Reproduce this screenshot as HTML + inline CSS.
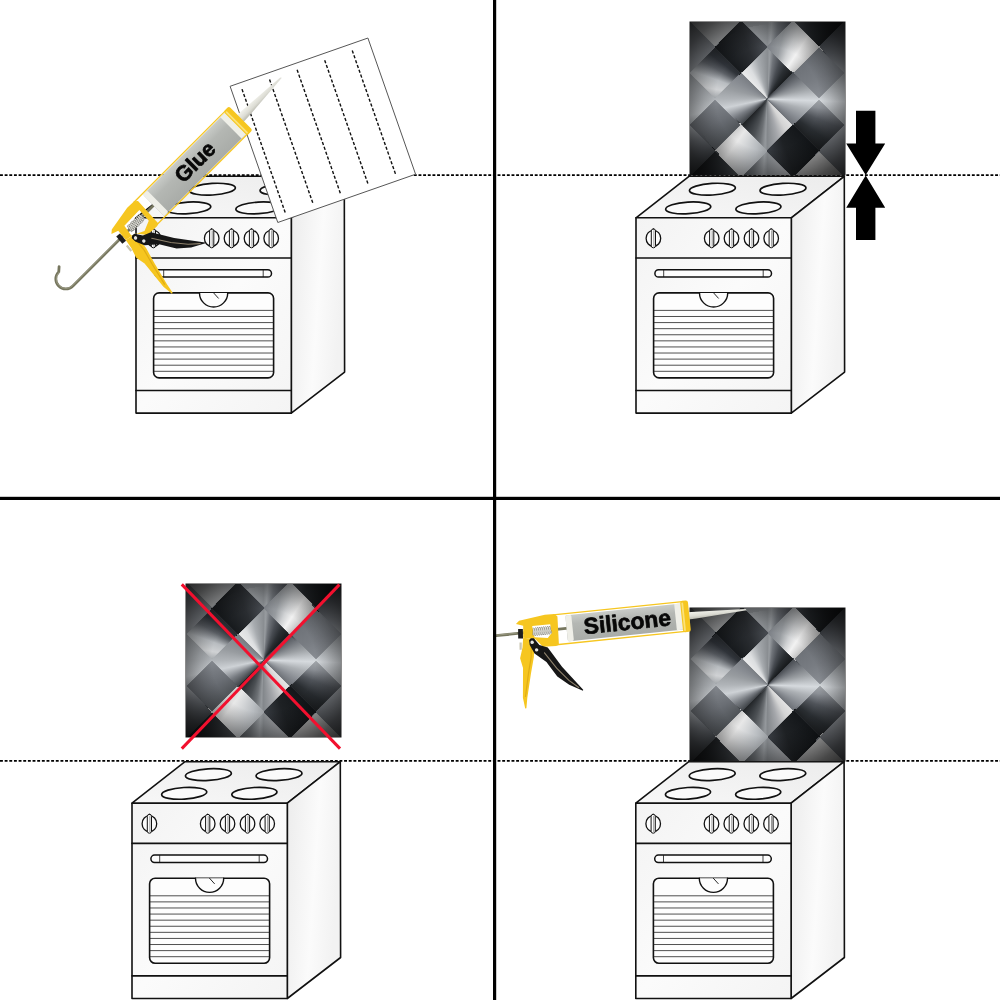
<!DOCTYPE html>
<html><head><meta charset="utf-8"><title>Installation guide</title>
<style>
html,body{margin:0;padding:0;background:#fff;}
body{width:1000px;height:1000px;position:relative;overflow:hidden;font-family:"Liberation Sans",sans-serif;}
svg{position:absolute;left:0;top:0;}
.tile{position:absolute;overflow:hidden;background:#222;box-shadow:0 0 0 0.5px #1a1a1a;}
.tile .la{position:absolute;left:0;top:0;right:0;bottom:0;background:conic-gradient(from -49.0deg,#eeeeee 0deg,#dcdee0 19deg,#a8acb0 34deg,#8a8e92 49deg,#989ca0 52deg,#70747a 57deg,#484c52 67deg,#2a2e32 79deg,#121416 98deg,#6c7076 98deg,#787c82 117deg,#8a8e94 139deg,#a4a8ac 139deg,#8c9096 149deg,#50545a 161deg,#2a2e32 174deg,#181a1c 180deg,#e8e8e8 180deg,#d4d4d4 199deg,#a6a8ac 214deg,#84888c 229deg,#94989c 232deg,#6c7074 239deg,#4c5054 249deg,#34383c 261deg,#16181a 278deg,#4a4e52 278deg,#6a6e74 294deg,#84888e 319deg,#a0a4a8 319deg,#d0d2d4 329deg,#b8bcc0 339deg,#5c6066 349deg,#30343a 357deg,#202326 360deg);}
.tile .la2{position:absolute;left:0;top:0;right:0;bottom:0;background:conic-gradient(from -41.0deg,#eeeeee 0deg,#dcdee0 11deg,#a8acb0 26deg,#8a8e92 41deg,#989ca0 44deg,#70747a 49deg,#484c52 59deg,#2a2e32 71deg,#121416 82deg,#6c7076 82deg,#787c82 109deg,#8a8e94 131deg,#a4a8ac 131deg,#8c9096 141deg,#50545a 153deg,#2a2e32 166deg,#181a1c 180deg,#e8e8e8 180deg,#d4d4d4 191deg,#a6a8ac 206deg,#84888c 221deg,#94989c 224deg,#6c7074 231deg,#4c5054 241deg,#34383c 253deg,#16181a 262deg,#4a4e52 262deg,#6a6e74 286deg,#84888e 311deg,#a0a4a8 311deg,#d0d2d4 321deg,#b8bcc0 331deg,#5c6066 341deg,#30343a 349deg,#202326 360deg);-webkit-mask-image:radial-gradient(circle at 50% 50%,transparent 36.77px,#000 36.77px,#000 73.54px,transparent 73.54px);mask-image:radial-gradient(circle at 50% 50%,transparent 36.77px,#000 36.77px,#000 73.54px,transparent 73.54px);}
.tile .lb{position:absolute;left:50%;top:50%;width:260px;height:260px;margin:-130px 0 0 -130px;transform:rotate(45deg);
 background:conic-gradient(from -86.0deg,#14171a 0deg,#2a2d31 21deg,#484c52 41deg,#7a7e84 41deg,#989ca0 55deg,#cfd1d3 65deg,#f2f2f2 74deg,#d8d8d8 81deg,#b4b4b4 82deg,#40444a 82deg,#72767c 101deg,#9ca0a4 116deg,#d6dade 133deg,#acb0b4 146deg,#8c9096 161deg,#666a70 180deg,#121518 180deg,#1e2124 201deg,#383c42 221deg,#9a9ea2 221deg,#b8bcc0 233deg,#d4d6d8 246deg,#e8e8e8 256deg,#d8d8d8 262deg,#c0c0c0 262deg,#34383c 262deg,#787c82 281deg,#ced2d6 299deg,#b0b4b8 311deg,#989ca0 326deg,#888c92 341deg,#767a80 360deg);
 -webkit-mask-image:repeating-conic-gradient(#000 0deg 90deg,transparent 90deg 180deg),repeating-conic-gradient(#000 0deg 90deg,transparent 90deg 180deg),repeating-conic-gradient(#000 0deg 90deg,transparent 90deg 180deg),repeating-conic-gradient(#000 0deg 90deg,transparent 90deg 180deg);mask-image:repeating-conic-gradient(#000 0deg 90deg,transparent 90deg 180deg),repeating-conic-gradient(#000 0deg 90deg,transparent 90deg 180deg),repeating-conic-gradient(#000 0deg 90deg,transparent 90deg 180deg),repeating-conic-gradient(#000 0deg 90deg,transparent 90deg 180deg);
 -webkit-mask-size:73.54px 73.54px;mask-size:73.54px 73.54px;
 -webkit-mask-position:calc(50% + 0.3px) 50%,calc(50% - 0.3px) 50%,50% calc(50% + 0.3px),50% calc(50% - 0.3px);mask-position:calc(50% + 0.3px) 50%,calc(50% - 0.3px) 50%,50% calc(50% + 0.3px),50% calc(50% - 0.3px);}
.tile .la3{position:absolute;left:0;top:0;right:0;bottom:0;background:conic-gradient(from -49.0deg,#b4b6b8 0deg,#acaeb0 19deg,#94989c 34deg,#8a8e92 49deg,#989ca0 52deg,#70747a 57deg,#484c52 67deg,#2a2e32 79deg,#121416 98deg,#6c7076 98deg,#787c82 117deg,#8a8e94 139deg,#a4a8ac 139deg,#8c9096 149deg,#50545a 161deg,#2a2e32 174deg,#181a1c 180deg,#c6c6c6 180deg,#b6b6b6 199deg,#a6a8ac 214deg,#84888c 229deg,#94989c 232deg,#6c7074 239deg,#4c5054 249deg,#34383c 261deg,#16181a 278deg,#4a4e52 278deg,#6a6e74 294deg,#84888e 319deg,#a0a4a8 319deg,#d0d2d4 329deg,#b8bcc0 339deg,#5c6066 349deg,#30343a 357deg,#202326 360deg);-webkit-mask-image:radial-gradient(circle at 50% 50%,transparent 73.54px,#000 73.54px);mask-image:radial-gradient(circle at 50% 50%,transparent 73.54px,#000 73.54px);}
.tile .lb.b2{background:conic-gradient(from -94.0deg,#14171a 0deg,#2a2d31 29deg,#484c52 49deg,#7a7e84 49deg,#989ca0 63deg,#cfd1d3 73deg,#f2f2f2 82deg,#d8d8d8 89deg,#b4b4b4 98deg,#40444a 98deg,#72767c 109deg,#9ca0a4 124deg,#d6dade 141deg,#acb0b4 154deg,#8c9096 169deg,#666a70 180deg,#121518 180deg,#1e2124 209deg,#383c42 229deg,#9a9ea2 229deg,#b8bcc0 241deg,#d4d6d8 254deg,#e8e8e8 264deg,#d8d8d8 270deg,#c0c0c0 278deg,#34383c 278deg,#787c82 289deg,#ced2d6 307deg,#b0b4b8 319deg,#989ca0 334deg,#888c92 349deg,#767a80 360deg);}
.tile .ring{position:absolute;left:0;top:0;right:0;bottom:0;-webkit-mask-image:radial-gradient(circle at 50% 50%,transparent 36.77px,#000 36.77px,#000 73.54px,transparent 73.54px);mask-image:radial-gradient(circle at 50% 50%,transparent 36.77px,#000 36.77px,#000 73.54px,transparent 73.54px);}
.tile .vg{position:absolute;left:0;top:0;right:0;bottom:0;background:radial-gradient(circle at 50% 50%,rgba(0,0,0,0) 52px,rgba(0,0,0,0.14) 63px,rgba(0,0,0,0.36) 77px,rgba(0,0,0,0.62) 93px,rgba(0,0,0,0.82) 112px);}
</style></head><body>
<svg width="1000" height="1000" viewBox="0 0 1000 1000">
<defs>
<linearGradient id="gFront" x1="0" y1="0" x2="1" y2="1"><stop offset="0" stop-color="#f3f3f3"/><stop offset="0.5" stop-color="#fbfbfb"/><stop offset="1" stop-color="#f4f4f4"/></linearGradient>
<linearGradient id="gTop" x1="0" y1="1" x2="1" y2="0"><stop offset="0" stop-color="#f7f7f7"/><stop offset="1" stop-color="#ececec"/></linearGradient>
<linearGradient id="gSide" x1="0" y1="0" x2="1" y2="0.3"><stop offset="0" stop-color="#ebebeb"/><stop offset="0.6" stop-color="#fbfbfb"/><stop offset="1" stop-color="#f2f2f2"/></linearGradient>
<linearGradient id="gTube" x1="0" y1="0" x2="0" y2="1"><stop offset="0" stop-color="#c9ccc8"/><stop offset="0.35" stop-color="#b4b7b3"/><stop offset="1" stop-color="#a9aca8"/></linearGradient>
<linearGradient id="gNoz" x1="0" y1="0" x2="0" y2="1"><stop offset="0" stop-color="#f2f2ec"/><stop offset="0.6" stop-color="#dcdcd4"/><stop offset="1" stop-color="#b8b8ae"/></linearGradient>
<g id="stove" stroke="#111" stroke-width="1.6" stroke-linejoin="round" stroke-linecap="round" fill="none">
<polygon points="0,0 155.3,0 208.3,-41.5 53.0,-41.5" fill="url(#gTop)"/>
<polygon points="155.3,0 208.3,-41.5 208.60000000000002,154.3 155.3,195.3" fill="url(#gSide)"/>
<rect x="0" y="0" width="155.3" height="195.3" fill="url(#gFront)"/>
<line x1="0" y1="40.2" x2="155.3" y2="40.2"/>
<line x1="0" y1="172.7" x2="155.3" y2="172.7"/>
<ellipse cx="76.4" cy="-28.6" rx="23" ry="5.8" fill="#fafafa" stroke-width="1.7" transform="rotate(-3.5 76.4 -28.6)"/>
<ellipse cx="147" cy="-28.6" rx="23" ry="5.8" fill="#fafafa" stroke-width="1.7" transform="rotate(-3.5 147 -28.6)"/>
<ellipse cx="52.2" cy="-9.9" rx="22.6" ry="5.8" fill="#fafafa" stroke-width="1.7" transform="rotate(-3.5 52.2 -9.9)"/>
<ellipse cx="122.4" cy="-9.9" rx="22.6" ry="5.8" fill="#fafafa" stroke-width="1.7" transform="rotate(-3.5 122.4 -9.9)"/>
<ellipse cx="17.4" cy="20.5" rx="7.3" ry="8" fill="#fcfcfc" stroke-width="1.3"/>
<rect x="15.299999999999999" y="11.1" width="4.2" height="18.9" rx="2" fill="#fcfcfc" stroke-width="1"/>
<line x1="17.9" y1="13" x2="17.9" y2="28.5" stroke-width="0.6" stroke="#555"/>
<ellipse cx="75.7" cy="20.5" rx="7.3" ry="8" fill="#fcfcfc" stroke-width="1.3"/>
<rect x="73.60000000000001" y="11.1" width="4.2" height="18.9" rx="2" fill="#fcfcfc" stroke-width="1"/>
<line x1="76.2" y1="13" x2="76.2" y2="28.5" stroke-width="0.6" stroke="#555"/>
<ellipse cx="95.5" cy="20.5" rx="7.3" ry="8" fill="#fcfcfc" stroke-width="1.3"/>
<rect x="93.4" y="11.1" width="4.2" height="18.9" rx="2" fill="#fcfcfc" stroke-width="1"/>
<line x1="96.0" y1="13" x2="96.0" y2="28.5" stroke-width="0.6" stroke="#555"/>
<ellipse cx="115.5" cy="20.5" rx="7.3" ry="8" fill="#fcfcfc" stroke-width="1.3"/>
<rect x="113.4" y="11.1" width="4.2" height="18.9" rx="2" fill="#fcfcfc" stroke-width="1"/>
<line x1="116.0" y1="13" x2="116.0" y2="28.5" stroke-width="0.6" stroke="#555"/>
<ellipse cx="135.2" cy="20.5" rx="7.3" ry="8" fill="#fcfcfc" stroke-width="1.3"/>
<rect x="133.1" y="11.1" width="4.2" height="18.9" rx="2" fill="#fcfcfc" stroke-width="1"/>
<line x1="135.7" y1="13" x2="135.7" y2="28.5" stroke-width="0.6" stroke="#555"/>
<rect x="18.9" y="51.9" width="116.6" height="7.4" rx="3.7" fill="#fdfdfd" stroke-width="1.5"/>
<line x1="27.7" y1="52.3" x2="27.7" y2="58.9" stroke-width="0.8"/>
<line x1="127.2" y1="52.3" x2="127.2" y2="58.9" stroke-width="0.8"/>
<rect x="17.6" y="75.1" width="120" height="85" rx="5.5" fill="#fdfdfd" stroke-width="1.6"/>
<line x1="18.3" y1="92.60" x2="136.9" y2="92.60" stroke-width="0.8" stroke="#222"/>
<line x1="18.3" y1="98.69" x2="136.9" y2="98.69" stroke-width="0.8" stroke="#222"/>
<line x1="18.3" y1="104.78" x2="136.9" y2="104.78" stroke-width="0.8" stroke="#222"/>
<line x1="18.3" y1="110.87" x2="136.9" y2="110.87" stroke-width="0.8" stroke="#222"/>
<line x1="18.3" y1="116.96" x2="136.9" y2="116.96" stroke-width="0.8" stroke="#222"/>
<line x1="18.3" y1="123.05" x2="136.9" y2="123.05" stroke-width="0.8" stroke="#222"/>
<line x1="18.3" y1="129.14" x2="136.9" y2="129.14" stroke-width="0.8" stroke="#222"/>
<line x1="18.3" y1="135.23" x2="136.9" y2="135.23" stroke-width="0.8" stroke="#222"/>
<line x1="18.3" y1="141.32" x2="136.9" y2="141.32" stroke-width="0.8" stroke="#222"/>
<line x1="18.3" y1="147.41" x2="136.9" y2="147.41" stroke-width="0.8" stroke="#222"/>
<line x1="18.3" y1="153.50" x2="136.9" y2="153.50" stroke-width="0.8" stroke="#222"/>
<path d="M63.5,75.1 A14.1,14.1 0 0 0 91.7,75.1" fill="#fdfdfd" stroke-width="1.4"/>
<line x1="77.6" y1="75.1" x2="82.4" y2="80.4" stroke-width="0.9"/>
</g>
</defs>
<rect width="1000" height="1000" fill="#fff"/>
<line x1="0" y1="175.1" x2="1000" y2="175.1" stroke="#000" stroke-width="1.7" stroke-dasharray="2.9 1.75"/>
<line x1="0" y1="760.9" x2="1000" y2="760.9" stroke="#000" stroke-width="1.7" stroke-dasharray="2.9 1.75"/>
<use href="#stove" x="136" y="217.8"/>
<use href="#stove" x="636" y="217.8"/>
<use href="#stove" x="132" y="803.2"/>
<use href="#stove" x="635.8" y="803.2"/>
</svg>
<div class="tile" style="left:690.2px;top:22.2px;width:154.6px;height:153.2px">
<div class="la"></div><div class="la2"></div><div class="la3"></div><div class="lb"></div><div class="ring"><div class="lb b2"></div></div><div class="vg"></div></div>
<div class="tile" style="left:186.3px;top:583.6px;width:154.6px;height:153.2px">
<div class="la"></div><div class="la2"></div><div class="la3"></div><div class="lb"></div><div class="ring"><div class="lb b2"></div></div><div class="vg"></div></div>
<div class="tile" style="left:690.4px;top:608.2px;width:154.6px;height:153.2px">
<div class="la"></div><div class="la2"></div><div class="la3"></div><div class="lb"></div><div class="ring"><div class="lb b2"></div></div><div class="vg"></div></div>
<svg width="1000" height="1000" viewBox="0 0 1000 1000">
<defs>
<linearGradient id="gTube" x1="0" y1="0" x2="0" y2="1"><stop offset="0" stop-color="#d6d8d3"/><stop offset="0.3" stop-color="#c8cac5"/><stop offset="1" stop-color="#bcbeb8"/></linearGradient>
<linearGradient id="gNoz" x1="0" y1="0" x2="0" y2="1"><stop offset="0" stop-color="#f4f3ea"/><stop offset="0.6" stop-color="#e2e0d2"/><stop offset="1" stop-color="#b9b7a8"/></linearGradient>
<clipPath id="clipP4"><rect x="496" y="500" width="504" height="500"/></clipPath>
</defs>
<!-- panel 1 -->
<g transform="translate(230.1,86.3) rotate(-19.3)">
<rect x="0" y="0" width="146" height="144.3" fill="#fff" stroke="#555" stroke-width="0.9"/>
<line x1="10.3" y1="6.6" x2="10.3" y2="138.6" stroke="#111" stroke-width="1.4" stroke-dasharray="3.2 1.9"/>
<line x1="39.5" y1="6.6" x2="39.5" y2="138.6" stroke="#111" stroke-width="1.4" stroke-dasharray="3.2 1.9"/>
<line x1="68.7" y1="6.6" x2="68.7" y2="138.6" stroke="#111" stroke-width="1.4" stroke-dasharray="3.2 1.9"/>
<line x1="97.9" y1="6.6" x2="97.9" y2="138.6" stroke="#111" stroke-width="1.4" stroke-dasharray="3.2 1.9"/>
<line x1="127.1" y1="6.6" x2="127.1" y2="138.6" stroke="#111" stroke-width="1.4" stroke-dasharray="3.2 1.9"/>
</g>
<g transform="translate(153.5,205.4) rotate(-45) scale(1.0,1)">
<path d="M2,0 L-114,0 a10,10 0 0 1 0,-20 l4,-3.5" fill="none" stroke="#76765e" stroke-width="2.8" stroke-linecap="round"/>
<path d="M-50,-0.5 L-114,-0.5 a9.5,9.5 0 0 1 0,-19" fill="none" stroke="#adad96" stroke-width="0.6" stroke-linecap="round"/>
<polygon points="122,-4.7 130,-4.4 180,-0.9 181,0.5 130,4.4 122,4.7" fill="url(#gNoz)"/>
<line x1="-12" y1="-16" x2="118" y2="-16" stroke="#f6c620" stroke-width="1.3"/>
<line x1="-12" y1="16" x2="118" y2="16" stroke="#f6c620" stroke-width="1.3"/>
<rect x="0" y="-15" width="118" height="30" rx="1.5" fill="url(#gTube)"/>
<rect x="0" y="-15" width="6" height="30" rx="1.5" fill="#efefe8"/>
<rect x="109.5" y="-15" width="7" height="30" fill="#efefe8"/>
<rect x="115.6" y="-16.8" width="7.8" height="33.6" rx="2.2" fill="#f6c620"/>
<rect x="116.7" y="-15.2" width="1.8" height="30.8" rx="0.9" fill="#fbe27a"/>
<path d="M-49.9,-9.6 -46.5,-12.5 -20.3,-16.9 -10.7,-16.7 -7.9,-14.0 -9.3,16.2 -12.3,17.3 -25.4,16.6 -32.4,7.4 -44.2,4.9 -42.9,-7.0 Z M-35.0,-6.2 -13.2,-6.8 -14.2,7.5 -24.5,11.8 -37.0,5.6 Z" fill="#f6c620" fill-rule="evenodd"/>
<path d="M-33.8,3.4 l1.00,-6.8 l1.00,6.8 l1.00,-6.8 l1.00,6.8 l1.00,-6.8 l1.00,6.8 l1.00,-6.8 l1.00,6.8 l1.00,-6.8 l1.00,6.8 l1.00,-6.8 l1.00,6.8 l1.00,-6.8 l1.00,6.8 l1.00,-6.8 l1.00,6.8 l1.00,-6.8 l1.00,6.8" fill="none" stroke="#6a6a62" stroke-width="1.5" stroke-linejoin="round"/>
<path d="M-33.8,3.4 l1.00,-6.8 l1.00,6.8 l1.00,-6.8 l1.00,6.8 l1.00,-6.8 l1.00,6.8 l1.00,-6.8 l1.00,6.8 l1.00,-6.8 l1.00,6.8 l1.00,-6.8 l1.00,6.8 l1.00,-6.8 l1.00,6.8 l1.00,-6.8 l1.00,6.8 l1.00,-6.8 l1.00,6.8" fill="none" stroke="#e6e6e0" stroke-width="0.8" stroke-linejoin="round"/>
<polygon points="-48.3,-4.4 -43.6,-3.9 -44.4,5.6 -49.2,5.1" fill="#1d1d1d"/>
<polygon points="-48.3,9.3 -46.1,9.5 -46.8,16.6 -49.0,16.4" fill="#c9c5b0"/>
<polygon points="-44.2,4.9 -45.8,14.4 -49.3,24.9 -47.4,34.8 -50.6,64.6 -49.4,75.4 -48.2,75.3 -46.2,65.0 -40.2,41.6 -35.5,25.2 -33.0,7.3" fill="#f6c620"/>
<path d="M-36.5,9 L-38.2,25 L-42.6,41 L-48,64" fill="none" stroke="#e0ad14" stroke-width="1.2"/>
<polygon points="-38.6,8.0 -36.6,6.2 -33.6,6.4 -28.8,13.8 -20.7,17.1 -8.5,37.7 10.2,62.8 9.9,63.6 -3.2,56.4 -14.2,46.8 -23.5,31.3 -34.5,21.7 -38.4,12.6" fill="#161616"/>
<path d="M-24.5,22 L-14,38.5 L-3,52 L6,60" fill="none" stroke="#8f826c" stroke-width="1.1" stroke-linecap="round"/>
<circle cx="-35.7" cy="10.3" r="1.7" fill="#e4e4e4"/>
<circle cx="-32.0" cy="18.3" r="1.7" fill="#e4e4e4"/>
<g opacity="0.99"><text text-rendering="geometricPrecision" x="60" y="5.80" font-family="Liberation Sans, sans-serif" font-weight="bold" font-size="21.5" text-anchor="middle" fill="#060606" stroke="#060606" stroke-width="0.7" stroke-linejoin="round" transform="scale(1.0000,1)">Glue</text></g>
</g>
<!-- panel 2 -->
<polygon points="856.0,110.8 875.4000000000001,110.8 875.4000000000001,143.5 885.2,143.5 865.7,175 846.2,143.5 856.0,143.5" fill="#000"/><polygon points="856.0,240 875.4000000000001,240 875.4000000000001,207.7 885.2,207.7 865.7,175.4 846.2,207.7 856.0,207.7" fill="#000"/>
<!-- panel 3 -->
<line x1="181.8" y1="584.4" x2="340" y2="748.6" stroke="#f2102e" stroke-width="3"/>
<line x1="339.4" y1="584.6" x2="181.8" y2="748.6" stroke="#f2102e" stroke-width="3"/>
<!-- panel 4 -->
<g clip-path="url(#clipP4)">
<g transform="translate(566.6,628.4) rotate(-5.9) scale(1.0,1)">
<line x1="-80" y1="0" x2="2" y2="0" stroke="#76765e" stroke-width="2.8"/>
<line x1="-80" y1="-0.5" x2="-50" y2="-0.5" stroke="#adad96" stroke-width="0.6"/>
<polygon points="122,-3.7 130,-3.4000000000000004 180,-0.9 181,0.5 130,3.4000000000000004 122,3.7" fill="url(#gNoz)"/>
<line x1="-12" y1="-14.8" x2="118" y2="-14.8" stroke="#f6c620" stroke-width="1.3"/>
<line x1="-12" y1="15.2" x2="118" y2="15.2" stroke="#f6c620" stroke-width="1.3"/>
<rect x="0" y="-13.1" width="118" height="26.2" rx="1.5" fill="url(#gTube)"/>
<rect x="0" y="-13.1" width="6" height="26.2" rx="1.5" fill="#efefe8"/>
<rect x="109.5" y="-13.1" width="7" height="26.2" fill="#efefe8"/>
<rect x="115.6" y="-15.600000000000001" width="7.8" height="31.6" rx="2.2" fill="#f6c620"/>
<rect x="116.7" y="-14.0" width="1.8" height="28.8" rx="0.9" fill="#fbe27a"/>
<path d="M-49.9,-9.6 -46.5,-12.5 -20.3,-15.7 -10.7,-15.5 -7.9,-12.8 -9.3,15.4 -12.3,16.5 -25.4,15.8 -32.4,7.4 -44.2,4.9 -42.9,-7.0 Z M-34.0,-6.0 -15.9,-5.9 -15.6,3.2 -19.7,7.5 -32.8,5.5 Z" fill="#f6c620" fill-rule="evenodd"/>
<path d="M-33.8,3.4 l1.00,-6.8 l1.00,6.8 l1.00,-6.8 l1.00,6.8 l1.00,-6.8 l1.00,6.8 l1.00,-6.8 l1.00,6.8 l1.00,-6.8 l1.00,6.8 l1.00,-6.8 l1.00,6.8 l1.00,-6.8 l1.00,6.8 l1.00,-6.8 l1.00,6.8 l1.00,-6.8 l1.00,6.8" fill="none" stroke="#6a6a62" stroke-width="1.5" stroke-linejoin="round"/>
<path d="M-33.8,3.4 l1.00,-6.8 l1.00,6.8 l1.00,-6.8 l1.00,6.8 l1.00,-6.8 l1.00,6.8 l1.00,-6.8 l1.00,6.8 l1.00,-6.8 l1.00,6.8 l1.00,-6.8 l1.00,6.8 l1.00,-6.8 l1.00,6.8 l1.00,-6.8 l1.00,6.8 l1.00,-6.8 l1.00,6.8" fill="none" stroke="#e6e6e0" stroke-width="0.8" stroke-linejoin="round"/>
<polygon points="-48.3,-4.4 -43.6,-3.9 -44.4,5.6 -49.2,5.1" fill="#1d1d1d"/>
<polygon points="-48.3,9.3 -46.1,9.5 -46.8,16.6 -49.0,16.4" fill="#c9c5b0"/>
<polygon points="-44.2,4.9 -45.8,14.4 -49.3,24.9 -47.4,34.8 -50.6,64.6 -49.4,75.4 -48.2,75.3 -46.2,65.0 -40.2,41.6 -35.5,25.2 -33.0,7.3" fill="#f6c620"/>
<path d="M-36.5,9 L-38.2,25 L-42.6,41 L-48,64" fill="none" stroke="#e0ad14" stroke-width="1.2"/>
<polygon points="-38.6,8.0 -36.6,6.2 -33.6,6.4 -28.8,13.8 -20.7,17.1 -8.5,37.7 10.2,62.8 9.9,63.6 -3.2,56.4 -14.2,46.8 -23.5,31.3 -34.5,21.7 -38.4,12.6" fill="#161616"/>
<path d="M-24.5,22 L-14,38.5 L-3,52 L6,60" fill="none" stroke="#8f826c" stroke-width="1.1" stroke-linecap="round"/>
<circle cx="-35.7" cy="10.3" r="1.7" fill="#e4e4e4"/>
<circle cx="-32.0" cy="18.3" r="1.7" fill="#e4e4e4"/>
<g opacity="0.99"><text text-rendering="geometricPrecision" x="61" y="7.66" font-family="Liberation Sans, sans-serif" font-weight="bold" font-size="22.8" text-anchor="middle" fill="#060606" stroke="#060606" stroke-width="0.7" stroke-linejoin="round" transform="scale(1.0000,1)">Silicone</text></g>
</g>
</g>
<!-- dividers -->
<rect x="493" y="0" width="3.2" height="1000" fill="#000"/>
<rect x="0" y="496.8" width="1000" height="3.2" fill="#000"/>
</svg>
</body></html>
